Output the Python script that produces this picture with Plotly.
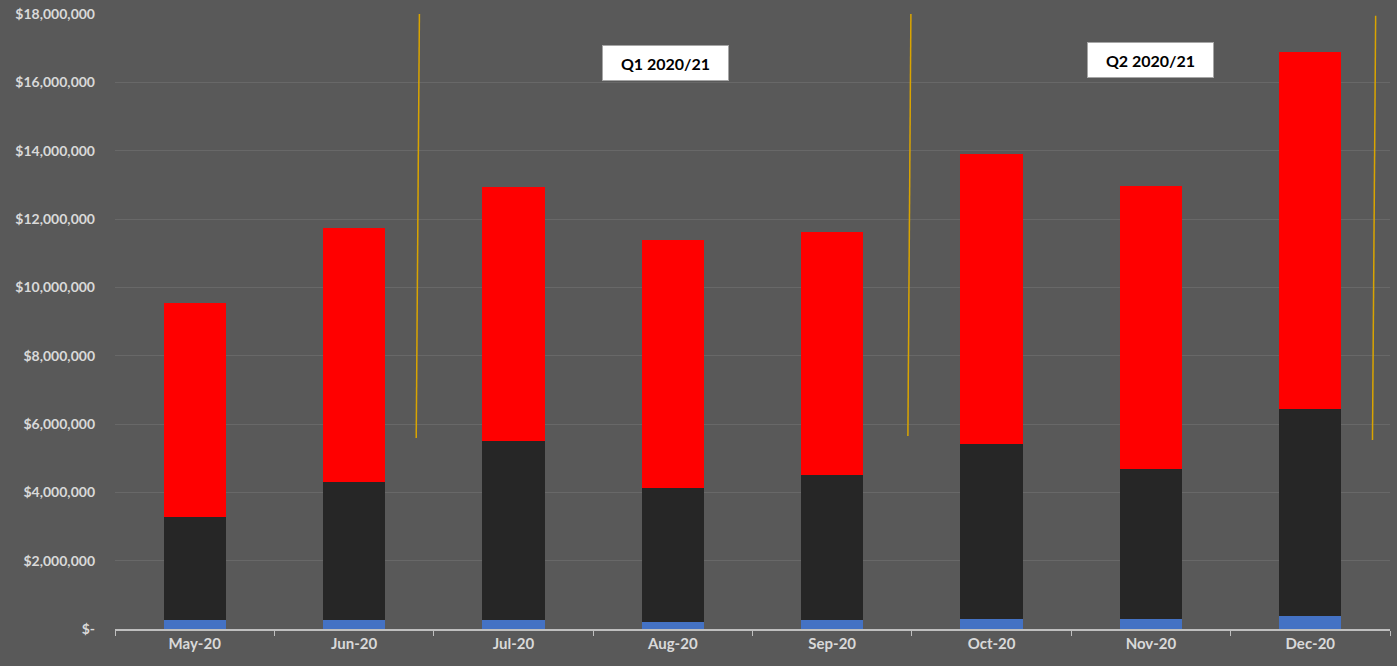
import plotly.graph_objects as go

months = ["May-20", "Jun-20", "Jul-20", "Aug-20", "Sep-20", "Oct-20", "Nov-20", "Dec-20"]
blue_vals = [264000, 260000, 250000, 200000, 250000, 290000, 290000, 380000]
black_vals = [3020000, 4040000, 5250000, 3930000, 4260000, 5130000, 4400000, 6060000]
red_vals = [6270000, 7440000, 7440000, 7260000, 7110000, 8490000, 8280000, 10460000]

tick_vals = [0, 2e6, 4e6, 6e6, 8e6, 10e6, 12e6, 14e6, 16e6, 18e6]
tick_text = ["$-", "$2,000,000", "$4,000,000", "$6,000,000", "$8,000,000", "$10,000,000",
             "$12,000,000", "$14,000,000", "$16,000,000", "$18,000,000"]

quarter_labels = ["Q1 2020/21", "Q2 2020/21"]

fig = go.Figure()
for vals, col in [(blue_vals, "#4472C4"), (black_vals, "#262626"), (red_vals, "#FF0000")]:
    fig.add_trace(go.Bar(x=months, y=vals, marker=dict(color=col, line=dict(width=0)),
                         width=0.39, showlegend=False))

# quarter separators
for (x0, y0, x1, y1) in [(1.41, 18.0e6, 1.39, 5.59e6), (4.494, 18.1e6, 4.475, 5.65e6),
                         (7.41, 17.95e6, 7.39, 5.53e6)]:
    fig.add_shape(type="line", xref="x", yref="y", x0=x0, y0=y0, x1=x1, y1=y1,
                  line=dict(color="#D9A400", width=1.5))

for label, xc, yc in [(quarter_labels[0], 2.957, 16.57e6), (quarter_labels[1], 6.0, 16.66e6)]:
    fig.add_annotation(x=xc, y=yc, xref="x", yref="y", text="<b>%s</b>" % label,
                       showarrow=False, font=dict(family="Lato", size=16, color="#000000"),
                       bgcolor="#FFFFFF", bordercolor="#A6A6A6", borderwidth=1,
                       borderpad=4, width=117, height=26)

fig.update_layout(
    barmode="stack",
    width=1397, height=666,
    margin=dict(l=115, r=7, t=14, b=37),
    paper_bgcolor="#595959", plot_bgcolor="#595959",
    font=dict(family="Lato", color="#D9D9D9"),
    bargap=0.61,
)
fig.update_xaxes(
    showgrid=False, showline=True, linecolor="#BFBFBF", linewidth=1.5,
    ticks="outside", tickson="boundaries", ticklen=5, tickcolor="#BFBFBF",
    tickfont=dict(family="Lato", size=15, color="#D9D9D9"),
    tickvals=months, ticktext=["<b>%s</b>" % m for m in months], automargin=False,
)
fig.update_yaxes(
    range=[0, 18e6], tickvals=tick_vals, ticktext=["<b>%s</b>" % t for t in tick_text],
    showgrid=True, gridcolor="#686868", gridwidth=1, zeroline=False,
    tickfont=dict(family="Lato", size=14, color="#D9D9D9"), ticks="", ticklabelstandoff=19,
    automargin=False,
)
fig.write_html("out.html")
